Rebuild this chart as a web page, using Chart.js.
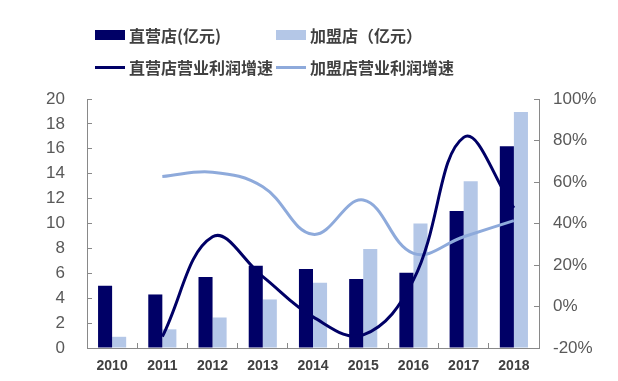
<!DOCTYPE html>
<html>
<head>
<meta charset="utf-8">
<script src="https://cdn.jsdelivr.net/npm/chart.js@4"></script>
<style>
  html, body { margin: 0; padding: 0; background: #fff; }
  #wrap { position: relative; width: 618px; height: 381px; }
  #chart { display: block; }
  #legend { position: absolute; left: 0; top: 0; width: 618px; height: 90px;
    font-family: "Noto Sans CJK SC", sans-serif; font-weight: bold; font-size: 16px; color: #404040; }
  .item { position: absolute; height: 20px; line-height: 20px; white-space: nowrap; }
  .mark { position: absolute; left: 0; width: 30px; }
  .item span { position: absolute; left: 34px; top: 0; }
</style>
</head>
<body>
<div id="wrap">
  <canvas id="chart" width="618" height="381"></canvas>
  <div id="legend"></div>
</div>
<script>
const years = ['2010', '2011', '2012', '2013', '2014', '2015', '2016', '2017', '2018'];
const directRevenue = [5.0, 4.3, 5.7, 6.6, 6.35, 5.55, 6.05, 11.0, 16.2];
const franchiseRevenue = [0.9, 1.5, 2.45, 3.9, 5.25, 7.95, 10.0, 13.4, 18.95];
const directProfitGrowth = [null, -14.5, 33.6, 14.4, -5, -13.7, 12.8, 81.5, 47.5];
const franchiseProfitGrowth = [null, 62.6, 64.7, 57.7, 34.8, 51.3, 25.6, 33.6, 41.4];

const navy = '#000066';
const lightBar = '#b4c7e7';
const lightLine = '#8eaadb';
const axisGray = '#898989';

const legendItems = [
  { label: '直营店(亿元)', color: navy, kind: 'box', x: 95, y: 25 },
  { label: '加盟店（亿元）', color: lightBar, kind: 'box', x: 276, y: 25 },
  { label: '直营店营业利润增速', color: navy, kind: 'line', x: 95, y: 57 },
  { label: '加盟店营业利润增速', color: lightLine, kind: 'line', x: 276, y: 57 }
];

const legendEl = document.getElementById('legend');
legendItems.forEach(it => {
  const d = document.createElement('div');
  d.className = 'item';
  d.style.left = it.x + 'px';
  d.style.top = it.y + 'px';
  const m = document.createElement('div');
  m.className = 'mark';
  m.style.background = it.color;
  if (it.kind === 'box') { m.style.top = '5px'; m.style.height = '10px'; }
  else { m.style.top = '9px'; m.style.height = '3px'; }
  const t = document.createElement('span');
  t.textContent = it.label;
  d.appendChild(m);
  d.appendChild(t);
  legendEl.appendChild(d);
});

// fixed axis sizes; drop the vertical label padding so the plot keeps its height
const fixY = w => s => { s.width = w; s.paddingTop = 0; s.paddingBottom = 0; };

new Chart(document.getElementById('chart'), {
  type: 'bar',
  data: {
    labels: years,
    datasets: [
      { type: 'line', data: directProfitGrowth, yAxisID: 'y2', borderColor: navy, borderWidth: 3,
        pointRadius: 0, tension: 0.4, fill: false, order: 0 },
      { type: 'line', data: franchiseProfitGrowth, yAxisID: 'y2', borderColor: lightLine, borderWidth: 3,
        pointRadius: 0, tension: 0.4, fill: false, order: 0 },
      { data: directRevenue, backgroundColor: navy, yAxisID: 'y', order: 1,
        barPercentage: 1, categoryPercentage: 0.56 },
      { data: franchiseRevenue, backgroundColor: lightBar, yAxisID: 'y', order: 1,
        barPercentage: 1, categoryPercentage: 0.56 }
    ]
  },
  options: {
    responsive: false,
    animation: false,
    layout: { padding: { top: 99, left: 0, right: 0, bottom: 0 } },
    plugins: { legend: { display: false }, tooltip: { enabled: false } },
    scales: {
      x: {
        offset: true,
        grid: { offset: true, drawOnChartArea: false, drawTicks: true, tickLength: -5, color: axisGray },
        border: { display: true, color: axisGray, width: 1 },
        ticks: { color: '#404040', padding: 15, font: { family: 'Liberation Sans', size: 14, weight: 'bold' } },
        afterFit: s => { s.height = 33; }
      },
      y: {
        position: 'left',
        min: 0, max: 20,
        ticks: { stepSize: 2, color: '#595959', padding: 27, font: { family: 'Liberation Sans', size: 17 } },
        grid: { drawOnChartArea: false, drawTicks: true, tickLength: -5, color: axisGray },
        border: { display: true, color: axisGray, width: 1 },
        afterFit: fixY(87)
      },
      y2: {
        position: 'right',
        min: -20, max: 100,
        ticks: { stepSize: 20, color: '#595959', padding: 19, callback: v => v + '%',
          font: { family: 'Liberation Sans', size: 17 } },
        grid: { drawOnChartArea: false, drawTicks: true, tickLength: -5, color: axisGray },
        border: { display: true, color: axisGray, width: 1 },
        afterFit: fixY(79)
      }
    }
  }
});
</script>
</body>
</html>
